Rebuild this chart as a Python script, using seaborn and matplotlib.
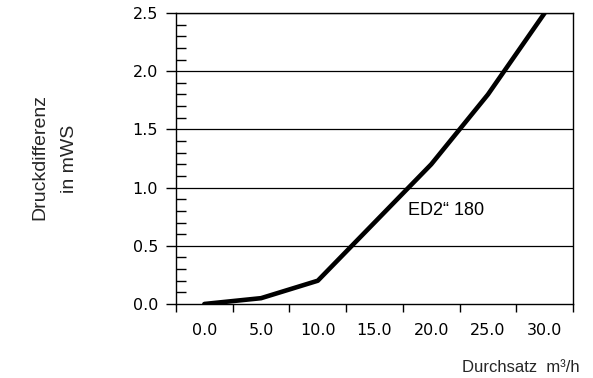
import matplotlib.pyplot as plt
import numpy as np
import pandas as pd
import seaborn as sns
from matplotlib.ticker import MultipleLocator

# data
durchsatz = ['0.0', '5.0', '10.0', '15.0', '20.0', '25.0', '30.0']
druckdifferenz = [0.0, 0.05, 0.2, 0.7, 1.2, 1.8, 2.5]
y_ticks = [0.0, 0.5, 1.0, 1.5, 2.0, 2.5]

sns.set_theme(style='ticks')
plt.rcParams['font.family'] = ['Liberation Sans', 'DejaVu Sans']

fig = plt.figure(figsize=(5.93, 3.78), dpi=100)
ax = fig.add_axes([0.2968, 0.1958, 0.6695, 0.7698])

df = pd.DataFrame({'x': durchsatz, 'y': druckdifferenz})
sns.lineplot(data=df, x='x', y='y', ax=ax, color='black', linewidth=3.3, sort=False)

# horizontal grid lines
for v in y_ticks[1:]:
    ax.axhline(v, color='black', linewidth=0.9, zorder=0)

n = len(durchsatz)
ax.set_xlim(-0.5, n - 0.5)
ax.set_ylim(0, 2.5)

tick_font = dict(family='DejaVu Sans', size=11.5)

# category boundaries as major ticks, labels centred between them
ax.set_xticks(np.arange(-0.5, n, 1.0))
ax.set_xticklabels([])
ax.set_xticks(np.arange(n), durchsatz, minor=True, fontdict=tick_font)
ax.tick_params(axis='x', which='major', direction='out', length=6, width=1,
               color='black', bottom=True)
ax.tick_params(axis='x', which='minor', length=0, pad=13.5, labelcolor='black')

ax.set_yticks(y_ticks, [f'{v:.1f}' for v in y_ticks], fontdict=tick_font)
ax.yaxis.set_minor_locator(MultipleLocator(0.1))
ax.tick_params(axis='y', which='major', direction='out', length=7, width=1, color='black',
               pad=6, labelcolor='black', left=True)
ax.tick_params(axis='y', which='minor', direction='in', length=7, width=1, color='black', left=True)

for s in ax.spines.values():
    s.set_color('black')
    s.set_linewidth(1)

ax.set_xlabel('')
ax.set_ylabel('')

ax.text(3.59, 0.80, 'ED2\u201c 180', fontsize=13, ha='left', va='center', color='black')

fig.text(40 / 593, 1 - 157 / 378, 'Druckdifferenz', rotation=90, ha='center', va='center',
         fontsize=14)
fig.text(69 / 593, 1 - 159 / 378, 'in mWS', rotation=90, ha='center', va='center', fontsize=14)
fig.text(580 / 593, 1 - 367 / 378, 'Durchsatz  m\u00b3/h', ha='right', va='center', fontsize=12)

fig.savefig('out.png', dpi=100)
